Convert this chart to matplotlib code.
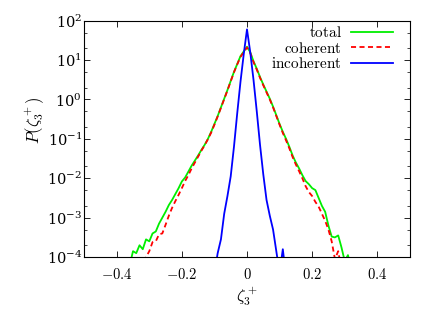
import numpy as np
import matplotlib
matplotlib.use("Agg")
import matplotlib.pyplot as plt
from matplotlib.ticker import LogLocator, FixedLocator, FixedFormatter, NullFormatter

plt.rcParams["mathtext.fontset"] = "cm"
plt.rcParams["font.family"] = "DejaVu Serif"

# log10 P(zeta_3^+)
x_total = [-0.36, -0.35, -0.34, -0.33, -0.32, -0.31, -0.30, -0.29, -0.28, -0.27,
           -0.26, -0.25, -0.24, -0.23, -0.22, -0.21, -0.20, -0.19, -0.18, -0.17,
           -0.16, -0.15, -0.14, -0.13, -0.12, -0.11, -0.10, -0.09, -0.08, -0.07,
           -0.06, -0.05, -0.04, -0.03, -0.02, -0.01, 0.00, 0.01, 0.02, 0.03,
           0.04, 0.05, 0.06, 0.07, 0.08, 0.09, 0.10, 0.11, 0.12, 0.13,
           0.14, 0.15, 0.16, 0.17, 0.18, 0.19, 0.20, 0.21, 0.22, 0.23,
           0.24, 0.25, 0.26, 0.27, 0.28, 0.29, 0.30, 0.31, 0.32]
logp_total = [-4.2, -3.85, -3.9, -3.7, -3.8, -3.55, -3.6, -3.4, -3.35, -3.15,
              -3.0, -2.85, -2.68, -2.55, -2.4, -2.25, -2.08, -1.98, -1.83, -1.68,
              -1.55, -1.42, -1.28, -1.15, -1.0, -0.82, -0.62, -0.42, -0.2, 0.02,
              0.24, 0.47, 0.7, 0.9, 1.1, 1.22, 1.34, 1.2, 0.97, 0.78,
              0.57, 0.38, 0.2, 0.02, -0.18, -0.4, -0.62, -0.82, -1.0, -1.2,
              -1.42, -1.6, -1.75, -1.92, -2.07, -2.15, -2.25, -2.3, -2.5, -2.7,
              -2.85, -3.2, -3.48, -3.5, -3.45, -3.75, -4.1, -3.95, -4.3]

x_coh = [-0.33, -0.32, -0.31, -0.30, -0.29, -0.28, -0.27, -0.26, -0.25, -0.24,
         -0.23, -0.22, -0.21, -0.20, -0.19, -0.18, -0.17, -0.16, -0.15, -0.14,
         -0.13, -0.12, -0.11, -0.10, -0.09, -0.08, -0.07, -0.06, -0.05, -0.04,
         -0.03, -0.02, -0.01, 0.00, 0.01, 0.02, 0.03, 0.04, 0.05, 0.06,
         0.07, 0.08, 0.09, 0.10, 0.11, 0.12, 0.13, 0.14, 0.15, 0.16,
         0.17, 0.18, 0.19, 0.20, 0.21, 0.22, 0.23, 0.24, 0.25, 0.26,
         0.27, 0.28, 0.29]
logp_coh = [-4.3, -4.15, -4.0, -3.85, -3.62, -3.6, -3.42, -3.4, -3.18, -2.95,
            -2.75, -2.58, -2.42, -2.25, -2.07, -1.92, -1.75, -1.6, -1.45, -1.3,
            -1.16, -1.01, -0.84, -0.64, -0.43, -0.21, 0.01, 0.23, 0.46, 0.69,
            0.89, 1.08, 1.2, 1.32, 1.18, 0.95, 0.76, 0.55, 0.36, 0.18,
            0.0, -0.2, -0.42, -0.64, -0.85, -1.04, -1.24, -1.46, -1.65, -1.82,
            -2.0, -2.2, -2.35, -2.45, -2.6, -2.72, -2.9, -3.08, -3.3, -3.6,
            -4.05, -3.85, -4.3]

x_inc = [-0.10, -0.09, -0.08, -0.07, -0.06, -0.05, -0.04, -0.03, -0.02, -0.01,
         0.00, 0.01, 0.02, 0.03, 0.04, 0.05, 0.06, 0.07, 0.08, 0.09,
         0.10, 0.11, 0.12]
logp_inc = [-4.4, -3.9, -3.55, -2.9, -2.45, -1.95, -1.2, -0.35, 0.45, 1.15,
            1.78, 1.2, 0.5, -0.3, -1.15, -1.9, -2.55, -2.95, -3.3, -3.85,
            -4.4, -3.8, -4.5]

fig = plt.figure(figsize=(4.36, 3.09), dpi=100)
ax = fig.add_axes([0.193, 0.168, 0.747, 0.765])

ax.plot(x_total, np.power(10.0, logp_total), color="#00ee00", lw=1.3,
        label=r"$\mathrm{total}$")
ax.plot(x_coh, np.power(10.0, logp_coh), color="#ff0000", lw=1.3,
        dashes=(2.8, 1.9), label=r"$\mathrm{coherent}$")
ax.plot(x_inc, np.power(10.0, logp_inc), color="#0000ff", lw=1.3,
        label=r"$\mathrm{incoherent}$")

ax.set_yscale("log")
ax.set_xlim(-0.5, 0.5)
ax.set_ylim(1e-4, 1e2)

xt = [-0.4, -0.2, 0.0, 0.2, 0.4]
ax.xaxis.set_major_locator(FixedLocator(xt))
ax.xaxis.set_major_formatter(FixedFormatter([r"$-0.4$", r"$-0.2$", r"$0$", r"$0.2$", r"$0.4$"]))
ax.yaxis.set_major_locator(LogLocator(base=10, numticks=10))
ax.yaxis.set_minor_locator(LogLocator(base=10, subs=(2.0, 5.0), numticks=10))
ax.yaxis.set_minor_formatter(NullFormatter())

ax.tick_params(which="both", direction="in", top=True, right=True, labelsize=10.5)
ax.tick_params(axis="x", pad=7)
ax.tick_params(axis="y", pad=1.5)
ax.tick_params(which="major", length=4, width=0.6)
ax.tick_params(which="minor", length=2, width=0.5)
for s in ax.spines.values():
    s.set_linewidth(0.8)

ax.set_xlabel(r"$\zeta_3^+$", fontsize=12, labelpad=2)
ax.set_ylabel(r"$P(\zeta_3^+)$", fontsize=12)
ax.yaxis.set_label_coords(-0.114, 0.58)

ax.legend(loc="upper right", bbox_to_anchor=(0.967, 1.008), frameon=False,
          markerfirst=False, fontsize=11, handlelength=2.75, labelspacing=0.05,
          borderaxespad=0.0, handletextpad=0.6, borderpad=0.4)

fig.savefig("out.png", dpi=100)
